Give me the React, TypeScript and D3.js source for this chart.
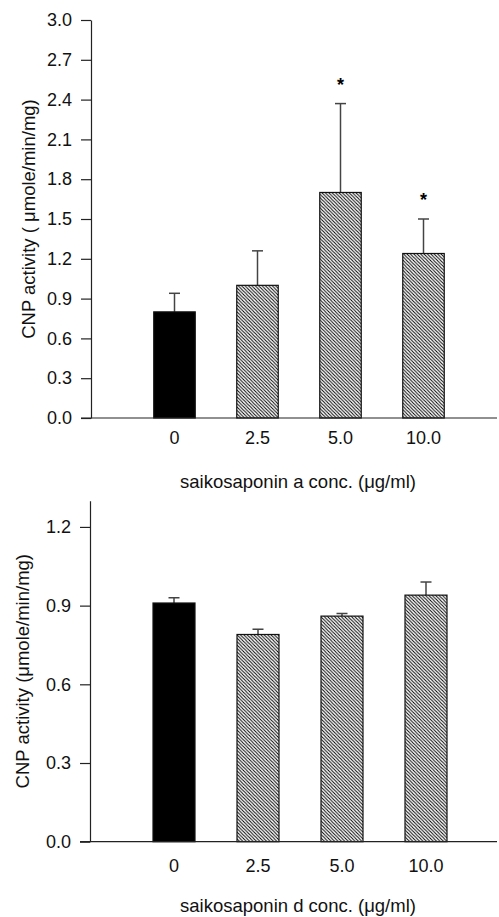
import React, { useRef, useEffect } from 'react'
import * as d3 from 'd3'

// concentrations (ug/ml)
const categories = ['0', '2.5', '5.0', '10.0']

// saikosaponin a panel
const saikoA = [0.8, 1.0, 1.7, 1.24]
const saikoAErr = [0.14, 0.26, 0.67, 0.26]
const saikoASig = [false, false, true, true]
const ticksA = [0, 0.3, 0.6, 0.9, 1.2, 1.5, 1.8, 2.1, 2.4, 2.7, 3.0]

// saikosaponin d panel
const saikoD = [0.91, 0.79, 0.86, 0.94]
const saikoDErr = [0.02, 0.02, 0.01, 0.05]
const saikoDSig = [false, false, false, false]
const ticksD = [0, 0.3, 0.6, 0.9, 1.2]

const FONT = '"Liberation Sans", Arial, sans-serif'

const drawPanel = (svg, opts) => {
  const { values, errs, sig, ticks, yMax, yTop, yBottom, axisX, xRange, yLabel, xLabel, labelX, tickLabelY, xLabelY } = opts

  const y = d3.scaleLinear().domain([0, yMax]).range([yBottom, yTop])
  const x = d3.scaleBand().domain(categories).range(xRange).paddingInner(0.5).paddingOuter(0.25)

  const g = svg.append('g')

  // y axis
  const yAxis = g.append('g')
    .attr('transform', 'translate(' + axisX + ',0)')
    .call(d3.axisLeft(y).tickValues(ticks).tickFormat(d3.format('.1f')).tickSize(10).tickSizeOuter(0).tickPadding(9))
  yAxis.select('.domain').attr('stroke', '#222').attr('stroke-width', 1.2)
  yAxis.selectAll('.tick line').attr('stroke', '#222').attr('stroke-width', 1.2)
  yAxis.selectAll('.tick text')
    .attr('font-family', FONT)
    .attr('font-size', 18)
    .attr('fill', '#111')

  const data = categories.map((c, i) => ({ c, v: values[i], e: errs[i], s: sig[i], i }))

  // error bars (upper only)
  data.forEach(d => {
    const cx = x(d.c) + x.bandwidth() / 2
    g.append('line')
      .attr('x1', cx).attr('x2', cx)
      .attr('y1', y(d.v)).attr('y2', y(d.v + d.e))
      .attr('stroke', '#444').attr('stroke-width', 1.5)
    g.append('line')
      .attr('x1', cx - 5.5).attr('x2', cx + 5.5)
      .attr('y1', y(d.v + d.e)).attr('y2', y(d.v + d.e))
      .attr('stroke', '#444').attr('stroke-width', 1.5)
    if (d.s) {
      g.append('text')
        .attr('x', cx)
        .attr('y', y(d.v + d.e) - 13)
        .attr('text-anchor', 'middle')
        .attr('font-family', FONT)
        .attr('font-size', 18)
        .attr('font-weight', 'bold')
        .text('*')
    }
  })

  // bars
  g.selectAll('rect.bar')
    .data(data)
    .enter()
    .append('rect')
    .attr('class', 'bar')
    .attr('x', d => x(d.c))
    .attr('y', d => y(d.v))
    .attr('width', x.bandwidth())
    .attr('height', d => y(0) - y(d.v))
    .attr('fill', d => d.i === 0 ? '#000' : 'url(#hatch)')
    .attr('stroke', '#111')
    .attr('stroke-width', 1.2)

  // x axis line
  g.append('line')
    .attr('x1', axisX - 10).attr('x2', 497)
    .attr('y1', y(0)).attr('y2', y(0))
    .attr('stroke', '#222').attr('stroke-width', 1.2)

  // x tick labels
  g.selectAll('text.xt')
    .data(data)
    .enter()
    .append('text')
    .attr('class', 'xt')
    .attr('x', d => x(d.c) + x.bandwidth() / 2)
    .attr('y', tickLabelY)
    .attr('text-anchor', 'middle')
    .attr('font-family', FONT)
    .attr('font-size', 18)
    .attr('fill', '#111')
    .text(d => d.c)

  // x title
  g.append('text')
    .attr('x', 298)
    .attr('y', xLabelY)
    .attr('text-anchor', 'middle')
    .attr('font-family', FONT)
    .attr('font-size', 18.5)
    .attr('fill', '#111')
    .text(xLabel)

  // y title
  g.append('text')
    .attr('transform', 'translate(' + labelX + ',' + ((yTop + yBottom) / 2) + ') rotate(-90)')
    .attr('text-anchor', 'middle')
    .attr('font-family', FONT)
    .attr('font-size', 18.5)
    .attr('fill', '#111')
    .text(yLabel)
}

export default function App() {
  const ref = useRef(null)

  useEffect(() => {
    const svg = d3.select(ref.current)
    svg.selectAll('*').remove()

    const defs = svg.append('defs')
    const s = 3.4
    const pat = defs.append('pattern')
      .attr('id', 'hatch')
      .attr('patternUnits', 'userSpaceOnUse')
      .attr('width', s)
      .attr('height', s)
    pat.append('rect').attr('width', s).attr('height', s).attr('fill', '#fff')
    pat.append('path')
      .attr('d', `M${-s},0 L${s},${2 * s} M0,${-s} L${2 * s},${s} M${-s / 2},${-s / 2} L${s * 1.5},${s * 1.5}`)
      .attr('stroke', '#000')
      .attr('stroke-width', 1)

    drawPanel(svg, {
      values: saikoA, errs: saikoAErr, sig: saikoASig, ticks: ticksA,
      yMax: 3.0, yTop: 20, yBottom: 418, axisX: 91, xRange: [133, 465],
      yLabel: 'CNP activity ( \u03bcmole/min/mg)',
      xLabel: 'saikosaponin a conc. (\u03bcg/ml)',
      labelX: 35, tickLabelY: 444, xLabelY: 488
    })

    drawPanel(svg, {
      values: saikoD, errs: saikoDErr, sig: saikoDSig, ticks: ticksD,
      yMax: 1.3, yTop: 500.7, yBottom: 841.7, axisX: 90, xRange: [132, 468],
      yLabel: 'CNP activity (\u03bcmole/min/mg)',
      xLabel: 'saikosaponin d conc. (\u03bcg/ml)',
      labelX: 29, tickLabelY: 872, xLabelY: 912
    })
  }, [])

  return (
    <div style={{ position: 'absolute', left: 0, top: 0 }}>
      <svg ref={ref} width={499} height={917} style={{ display: 'block', background: '#fff' }} />
    </div>
  )
}
